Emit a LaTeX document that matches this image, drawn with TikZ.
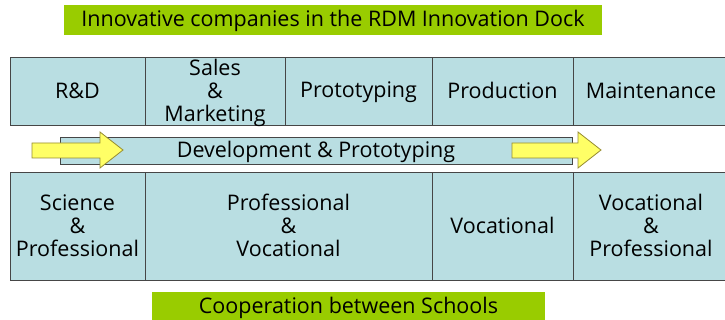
\documentclass[tikz,border=0pt]{standalone}
\usepackage{fontspec}
\setmainfont{Open Sans}
\definecolor{cellblue}{RGB}{185,222,226}
\definecolor{lime}{RGB}{153,204,0}
\definecolor{arrowyel}{RGB}{255,255,102}
\definecolor{arrowedge}{RGB}{150,140,50}
\definecolor{edge}{RGB}{70,70,70}
\newcommand{\cs}{\rule[-2.3pt]{0pt}{20pt}}
\newcommand{\nodepth}[1]{\raisebox{0pt}[\height][0pt]{#1}}
\tikzset{
  txt/.style={font=\fontsize{21.5}{23}\selectfont, text=black},
  cell/.style={draw=edge, line width=0.9pt, fill=cellblue, inner sep=0pt, align=center, txt},
  banner/.style={fill=lime, inner sep=0pt, txt},
  bigarrow/.style={draw=arrowedge, line width=0.8pt, fill=arrowyel},
}
\begin{document}
\begin{tikzpicture}[x=1pt,y=-1pt]
\useasboundingbox (0,0) rectangle (725,320);
% title
\node[banner, minimum width=538, minimum height=30] (title) at (333,20) {\cs Innovative companies in the RDM Innovation Dock};
% top row (companies)
\node[cell, minimum width=135, minimum height=68] (rd)   at (77.5,91) {\cs R\&D};
\node[cell, minimum width=140, minimum height=68] (sm)   at (215,91)  {\cs Sales\\\&\\\nodepth{Marketing}\cs};
\node[cell, minimum width=147, minimum height=68] (pt)   at (358.5,91) {\cs Prototyping};
\node[cell, minimum width=141, minimum height=68] (prod) at (502.5,91) {\cs Production};
\node[cell, minimum width=156, minimum height=68] (main) at (651,91)  {\cs Maintenance};
% middle band
\node[cell, minimum width=512, minimum height=27] (band) at (316,150.5) {};
\draw[bigarrow] (32,143) -- (100,143) -- (100,132) -- (123,150) -- (100,168) -- (100,158) -- (32,158) -- cycle;
\draw[bigarrow] (512,143) -- (578,143) -- (578,132) -- (601,150) -- (578,168) -- (578,158) -- (512,158) -- cycle;
\node[txt, inner sep=0pt] (bandtext) at (316,151.5) {\cs Development \& Prototyping};
% bottom row (schools)
\node[cell, minimum width=135, minimum height=108] (sp) at (77.5,226) {\cs Science\\\&\\Professional\cs};
\node[cell, minimum width=287, minimum height=108] (pv) at (288.5,226) {\cs Professional\\\&\\Vocational\cs};
\node[cell, minimum width=141, minimum height=108] (vo) at (502.5,226) {\cs Vocational};
\node[cell, minimum width=156, minimum height=108] (vp) at (651,226) {\cs Vocational\\\&\\Professional\cs};
% bottom banner
\node[banner, minimum width=393, minimum height=30] (coop) at (348.5,307) {\cs Cooperation between Schools};
\end{tikzpicture}
\end{document}
